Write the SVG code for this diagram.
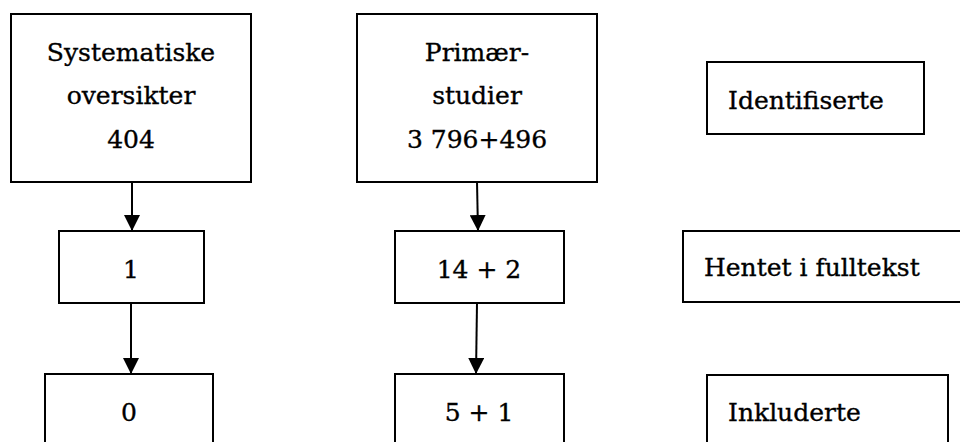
<svg xmlns="http://www.w3.org/2000/svg" width="960" height="442" viewBox="0 0 960 442">
<style>
.box{fill:#fff;stroke:#000;stroke-width:2}
.t{font-family:"DejaVu Serif","Liberation Serif",serif;font-size:25px;fill:#000;stroke:#000;stroke-width:0.35}
.c{text-anchor:middle}
.edge{stroke:#000;stroke-width:2;fill:none}
</style>
<defs>
<marker id="arr" markerWidth="16" markerHeight="16" refX="16" refY="8" orient="auto" markerUnits="userSpaceOnUse">
<path d="M0,0 L16,8 L0,16 Z" fill="#000"/>
</marker>
</defs>
<rect width="960" height="442" fill="#fff"/>
<g id="n-sys">
<rect class="box" x="11" y="14" width="240" height="168"/>
<text class="t c" x="131" y="61">Systematiske</text>
<text class="t c" x="131" y="104">oversikter</text>
<text class="t c" x="131" y="148">404</text>
</g>
<g id="n-prim">
<rect class="box" x="357" y="14" width="240" height="168"/>
<text class="t c" x="477" y="61">Primær-</text>
<text class="t c" x="477" y="104">studier</text>
<text class="t c" x="477" y="148">3 796+496</text>
</g>
<g id="n-ident">
<rect class="box" x="707" y="62" width="217" height="72"/>
<text class="t" x="728" y="109">Identifiserte</text>
</g>
<g id="n-1">
<rect class="box" x="59" y="231" width="145" height="72"/>
<text class="t c" x="131" y="278">1</text>
</g>
<g id="n-14">
<rect class="box" x="395" y="231" width="169" height="72"/>
<text class="t c" x="479" y="278">14 + 2</text>
</g>
<g id="n-hentet">
<rect class="box" x="683" y="231" width="290" height="71"/>
<text class="t" x="704" y="276">Hentet i fulltekst</text>
</g>
<g id="n-0">
<rect class="box" x="45" y="374" width="168" height="80"/>
<text class="t c" x="129" y="421">0</text>
</g>
<g id="n-5">
<rect class="box" x="395" y="374" width="169" height="80"/>
<text class="t c" x="479" y="421">5 + 1</text>
</g>
<g id="n-inkl">
<rect class="box" x="707" y="375" width="241" height="80"/>
<text class="t" x="728" y="421">Inkluderte</text>
</g>
<g id="edges">
<line class="edge" x1="132" y1="182" x2="132" y2="231" marker-end="url(#arr)"/>
<line class="edge" x1="131" y1="303" x2="131" y2="374" marker-end="url(#arr)"/>
<line class="edge" x1="477" y1="182" x2="478" y2="231" marker-end="url(#arr)"/>
<line class="edge" x1="477" y1="303" x2="476" y2="374" marker-end="url(#arr)"/>
</g>
</svg>
